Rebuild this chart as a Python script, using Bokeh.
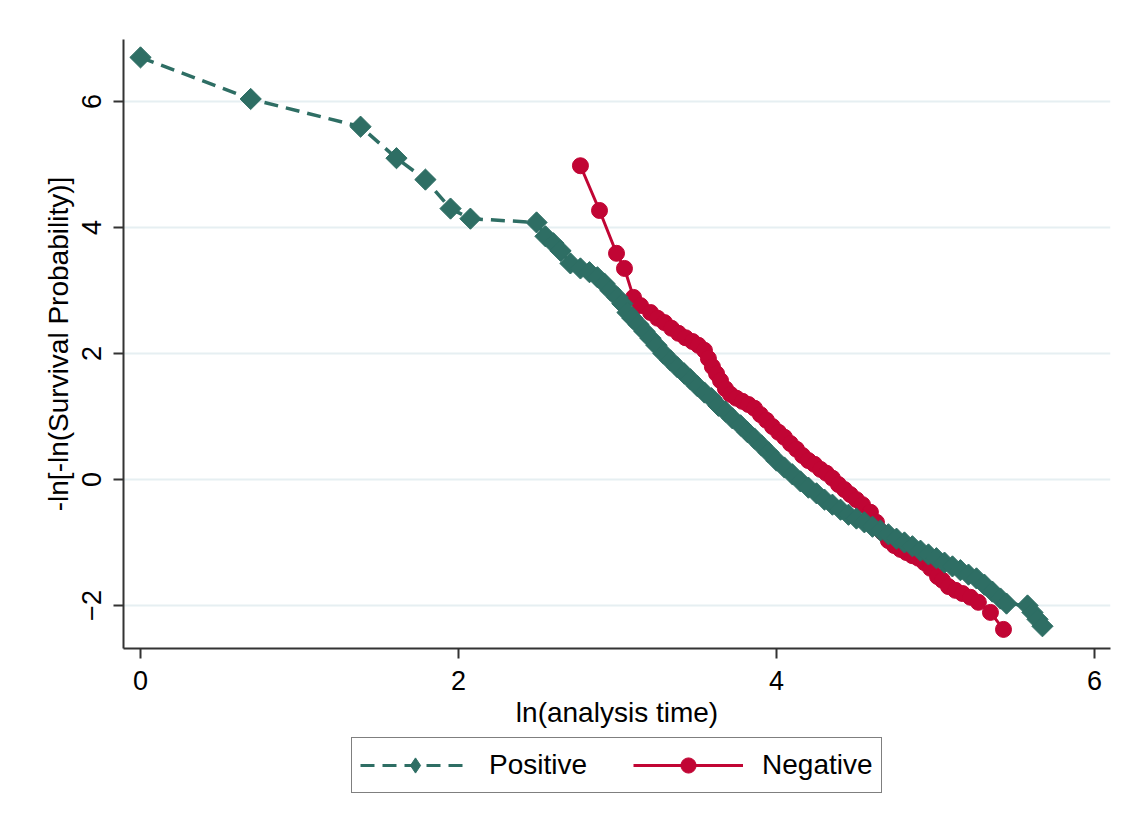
import math
from bokeh.plotting import figure
from bokeh.layouts import column
from bokeh.models import FixedTicker, Legend, LegendItem, Range1d
from bokeh.embed import file_html
from bokeh.resources import INLINE

# ---- data (x = ln(analysis time), y = -ln[-ln(S)]) ----
pos_lnt = [0.000, 0.693, 1.384, 1.610, 1.792, 1.950, 2.075, 2.491, 2.547, 2.597,
           2.642, 2.704, 2.767, 2.824, 2.874, 2.918, 2.956, 3.000, 3.031, 3.063,
           3.094, 3.132, 3.170, 3.208, 3.245, 3.289, 3.333, 3.377, 3.421, 3.459,
           3.503, 3.547, 3.591, 3.635, 3.679, 3.723, 3.774, 3.818, 3.862, 3.906,
           3.950, 4.000, 4.050, 4.101, 4.151, 4.201, 4.252, 4.302, 4.352, 4.403,
           4.453, 4.503, 4.553, 4.604, 4.654, 4.704, 4.755, 4.805, 4.855, 4.906,
           4.956, 5.006, 5.057, 5.107, 5.157, 5.208, 5.258, 5.308, 5.358, 5.409,
           5.447, 5.579, 5.610, 5.642, 5.673]
pos_y = [6.70, 6.04, 5.60, 5.10, 4.76, 4.30, 4.14, 4.08, 3.86, 3.75,
         3.63, 3.43, 3.35, 3.29, 3.21, 3.11, 3.00, 2.89, 2.79, 2.65,
         2.56, 2.46, 2.35, 2.24, 2.13, 2.00, 1.89, 1.78, 1.68, 1.59,
         1.48, 1.38, 1.29, 1.17, 1.08, 0.97, 0.86, 0.75, 0.65, 0.54,
         0.43, 0.30, 0.19, 0.08, -0.03, -0.13, -0.22, -0.32, -0.40, -0.48,
         -0.56, -0.62, -0.68, -0.75, -0.81, -0.87, -0.94, -1.00, -1.06, -1.13,
         -1.19, -1.25, -1.32, -1.38, -1.44, -1.51, -1.57, -1.67, -1.78, -1.89,
         -1.97, -2.00, -2.11, -2.22, -2.33]

neg_lnt = [2.767, 2.887, 2.994, 3.044, 3.101, 3.145, 3.208, 3.252, 3.296, 3.340,
           3.384, 3.428, 3.472, 3.509, 3.547, 3.572, 3.597, 3.623, 3.648, 3.679,
           3.711, 3.748, 3.786, 3.824, 3.862, 3.899, 3.937, 3.975, 4.013, 4.050,
           4.088, 4.126, 4.164, 4.201, 4.239, 4.277, 4.314, 4.352, 4.390, 4.428,
           4.465, 4.503, 4.541, 4.591, 4.629, 4.667, 4.704, 4.742, 4.780, 4.818,
           4.855, 4.893, 4.931, 4.969, 5.013, 5.044, 5.082, 5.126, 5.170, 5.220,
           5.270, 5.346, 5.428]
neg_y = [4.98, 4.27, 3.59, 3.35, 2.89, 2.76, 2.65, 2.56, 2.49, 2.40,
         2.32, 2.25, 2.19, 2.13, 2.05, 1.92, 1.79, 1.68, 1.57, 1.44,
         1.35, 1.29, 1.24, 1.19, 1.13, 1.03, 0.94, 0.84, 0.75, 0.67,
         0.57, 0.48, 0.38, 0.30, 0.24, 0.16, 0.10, 0.02, -0.08, -0.16,
         -0.24, -0.32, -0.40, -0.52, -0.68, -0.84, -0.97, -1.05, -1.11, -1.16,
         -1.21, -1.25, -1.32, -1.41, -1.54, -1.60, -1.70, -1.76, -1.81, -1.87,
         -1.95, -2.11, -2.38]

x_ticks = [0, 2, 4, 6]
y_ticks = [-2, 0, 2, 4, 6]
series_labels = ["Positive", "Negative"]

GREEN = "#2E6E64"
RED = "#C10534"
FONT = "Liberation Sans"
DASH = "14 8"

# ---------------- main chart ----------------
p = figure(width=1125, height=735, output_backend="svg", toolbar_location=None,
           x_range=Range1d(-0.107, 6.101), y_range=Range1d(-2.683, 6.984),
           min_border_left=123, min_border_right=15, min_border_top=39,
           min_border_bottom=87)
p.outline_line_color = None
p.background_fill_color = "white"
p.border_fill_color = "white"

p.xgrid.visible = False
p.ygrid.ticker = FixedTicker(ticks=y_ticks)
p.ygrid.grid_line_color = "#E6EFF2"
p.ygrid.grid_line_width = 2

for ax in (p.xaxis[0], p.yaxis[0]):
    ax.axis_line_color = "#333333"
    ax.axis_line_width = 2
    ax.major_tick_line_color = "#333333"
    ax.major_tick_line_width = 2
    ax.major_tick_out = 10
    ax.major_tick_in = 0
    ax.minor_tick_line_color = None
    ax.major_label_text_font = FONT
    ax.major_label_text_font_size = "27px"
    ax.major_label_text_color = "black"
    ax.axis_label_text_font = FONT
    ax.axis_label_text_font_size = "28px"
    ax.axis_label_text_font_style = "normal"
    ax.axis_label_text_color = "black"
    ax.major_label_standoff = 12

p.xaxis.ticker = FixedTicker(ticks=x_ticks)
p.yaxis.ticker = FixedTicker(ticks=y_ticks)
p.xaxis.axis_label = "ln(analysis time)"
p.yaxis.axis_label = "-ln[-ln(Survival Probability)]"
p.xaxis.axis_label_standoff = 4
p.yaxis.axis_label_standoff = 6
p.yaxis.major_label_orientation = "vertical"

# Negative first so Positive is drawn on top (as in reference)
p.line(neg_lnt, neg_y, line_color=RED, line_width=3)
p.scatter(neg_lnt, neg_y, marker="circle", size=16, fill_color=RED, line_color=RED)
p.line(pos_lnt, pos_y, line_color=GREEN, line_width=3.5, line_dash=DASH)
p.scatter(pos_lnt, pos_y, marker="square", size=15, angle=math.pi / 4,
          fill_color=GREEN, line_color=GREEN)

# ---------------- legend strip ----------------
lg = figure(width=1125, height=90, output_backend="svg", toolbar_location=None,
            x_range=Range1d(0, 1), y_range=Range1d(0, 1),
            min_border_left=0, min_border_right=0, min_border_top=0,
            min_border_bottom=0)
lg.axis.visible = False
lg.grid.visible = False
lg.outline_line_color = None
lg.background_fill_color = "white"
lg.border_fill_color = "white"

# key renderers: their points lie outside the strip's visible range
off = [-5.0, -4.0]
k_gl = lg.line(x=off, y=off, line_color=GREEN, line_width=3, line_dash=DASH)
k_gm = lg.scatter(x=off, y=off, marker="diamond", fill_color=GREEN, line_color=GREEN)
k_rl = lg.line(x=off, y=off, line_color=RED, line_width=3)
k_rm = lg.scatter(x=off, y=off, marker="circle", fill_color=RED, line_color=RED)

legend = Legend(items=[LegendItem(label=series_labels[0], renderers=[k_gl, k_gm]),
                       LegendItem(label=series_labels[1], renderers=[k_rl, k_rm])],
                orientation="horizontal", location=(228, 32))
legend.label_text_font = FONT
legend.label_text_font_size = "28px"
legend.label_text_color = "black"
legend.glyph_width = 110
legend.glyph_height = 38
legend.label_height = 38
legend.label_standoff = 19
legend.spacing = 46
legend.padding = 8
legend.margin = 0
legend.border_line_color = "black"
legend.border_line_width = 1.5
legend.background_fill_color = "white"
lg.add_layout(legend, "center")

layout = column(p, lg, spacing=0)
open("out.html", "w").write(file_html(layout, INLINE))
